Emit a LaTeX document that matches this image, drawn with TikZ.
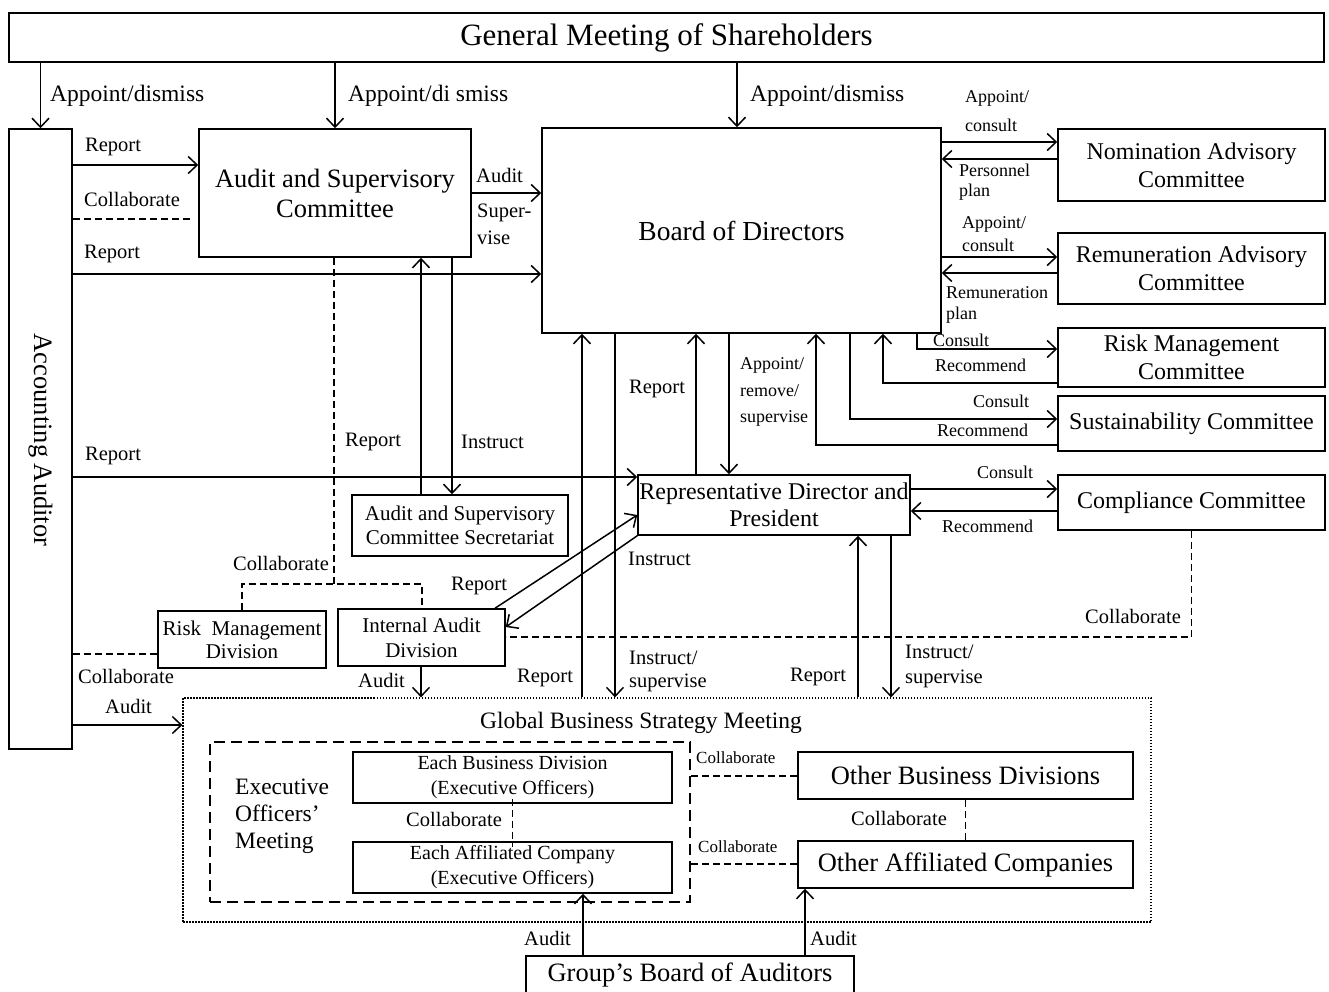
\documentclass[tikz,border=0pt]{standalone}
\usepackage{fontspec}
\setmainfont{Liberation Serif}
\usetikzlibrary{arrows.meta}
\begin{document}
\begin{tikzpicture}[x=1pt,y=-1pt,
  box/.style={draw, line width=1.5pt, inner sep=0pt, align=center},
  ln/.style={line width=1.5pt},
  arr/.style={line width=1.5pt, -{Straight Barb[length=9pt,width=17pt]}},
  dsh/.style={line width=1.5pt, dash pattern=on 7pt off 4pt},
  dshb/.style={line width=2.2pt, dash pattern=on 11pt off 6pt},
  dot/.style={line width=1.2pt, dash pattern=on 1.5pt off 1.5pt},
  lab/.style={inner sep=0pt, anchor=west},
  fA/.style={font=\fontsize{31}{36}\selectfont},
  fB/.style={font=\fontsize{27.5}{32}\selectfont},
  fC/.style={font=\fontsize{26.5}{30}\selectfont},
  fD/.style={font=\fontsize{24}{28}\selectfont},
  fE/.style={font=\fontsize{21}{24.5}\selectfont},
  fF/.style={font=\fontsize{20}{25}\selectfont},
  fL/.style={font=\fontsize{20.5}{24}\selectfont},
  fM/.style={font=\fontsize{23.5}{27}\selectfont},
  fS/.style={font=\fontsize{18}{21}\selectfont},
  fT/.style={font=\fontsize{17}{20}\selectfont},
]
\useasboundingbox (0,0) rectangle (1329,991);
\fill[white] (0,0) rectangle (1329,991);
% ---------- boxes ----------
\node[box, fA, minimum width=1315pt, minimum height=49pt] (gm) at (666.5,37.5) {General Meeting of Shareholders};
\node[box, minimum width=63pt, minimum height=620pt] (aa) at (40.5,439) {};
\node[fC, rotate=-90] (aat) at (40.5,440) {Accounting Auditor};
\node[box, fC, minimum width=272pt, minimum height=128pt] (asc) at (335,193) {Audit and Supervisory\\Committee};
\node[box, fB, minimum width=399pt, minimum height=205pt] (bod) at (741.5,230.5) {Board of Directors};
\node[box, fD, minimum width=267pt, minimum height=72pt] (nac) at (1191.5,165) {Nomination Advisory\\Committee};
\node[box, fD, minimum width=267pt, minimum height=71pt] (rac) at (1191.5,268.5) {Remuneration Advisory\\Committee};
\node[box, fD, minimum width=267pt, minimum height=59pt] (rmc) at (1191.5,357.5) {Risk Management\\Committee};
\node[box, fD, minimum width=267pt, minimum height=55pt] (sc) at (1191.5,423.5) {Sustainability Committee};
\node[box, fD, minimum width=267pt, minimum height=55pt] (cc) at (1191.5,502.5) {Compliance Committee};
\node[box, fD, minimum width=272pt, minimum height=60pt, font=\fontsize{24}{27}\selectfont] (rdp) at (774,505) {Representative Director and\\President};
\node[box, fE, minimum width=216pt, minimum height=61pt] (sec) at (460,525.5) {Audit and Supervisory\\Committee Secretariat};
\node[box, fE, minimum width=168pt, minimum height=57pt, font=\fontsize{21}{23}\selectfont] (rmd) at (242,639.5) {Risk\ \ Management\\Division};
\node[box, fE, minimum width=167pt, minimum height=57pt, font=\fontsize{21}{25}\selectfont] (iad) at (421.5,637.5) {Internal Audit\\Division};
\path (iad.center) ++(0,2) coordinate (iadc);
\node[box, dot, draw, minimum width=968pt, minimum height=224pt] (gbsm) at (667,810) {};
\node[fM] (gbsmt) at (641,723) {Global Business Strategy Meeting};
\node[box, dshb, draw, minimum width=480pt, minimum height=160pt] (eom) at (450,822) {};
\node[fM, align=left, anchor=west, inner sep=0pt, font=\fontsize{23.5}{27}\selectfont] (eomt) at (235,816) {Executive\\Officers'\\Meeting};
\node[box, fF, minimum width=319pt, minimum height=51pt] (ebd) at (512.5,777.5) {Each Business Division\\(Executive Officers)};
\node[box, fF, minimum width=319pt, minimum height=51pt] (eac) at (512.5,867.5) {Each Affiliated Company\\(Executive Officers)};
\node[box, fC, minimum width=335pt, minimum height=47pt] (obd) at (965.5,775.5) {Other Business Divisions};
\node[box, fC, minimum width=335pt, minimum height=47pt] (oac) at (965.5,864.5) {Other Affiliated Companies};
\node[box, fC, minimum width=328pt, minimum height=38pt] (gba) at (690,975) {Group's Board of Auditors};
% ---------- connectors ----------
\draw[arr] (aa.north |- gm.south) -- (aa.north);
\draw[arr] (asc.north |- gm.south) -- (asc.north);
\draw[arr] (737,0 |- gm.south) -- (737,0 |- bod.north);
\draw[arr] (aa.east |- 0,165) -- (asc.west |- 0,165);
\draw[dsh] (aa.east |- 0,219) -- ([xshift=-8pt]asc.west |- 0,219);
\draw[arr] (aa.east |- 0,274) -- (bod.west |- 0,274);
\draw[arr] (asc.east |- 0,193) -- (bod.west |- 0,193);
\draw[arr] (aa.east |- 0,477) -- (rdp.west |- 0,477);
\draw[dsh] (334,0 |- asc.south) -- (334,584);
\draw[dsh] (rmd.north) -- (rmd.north |- 0,584) -- (422,584) -- (422,0 |- iad.north);
\draw[arr] (421,0 |- sec.north) -- (421,0 |- asc.south);
\draw[arr] (452,0 |- asc.south) -- (452,0 |- sec.north);
\draw[dsh] (aa.east |- 0,654) -- (rmd.west |- 0,654);
\draw[arr] (aa.east |- 0,725) -- (gbsm.west |- 0,725);
\draw[arr] (421,0 |- iad.south) -- (421,0 |- gbsm.north);
\draw[arr] (495,0 |- iad.north) -- (rdp.west |- 0,515);
\draw[arr] (rdp.south west) -- (iad.east |- 0,627);
\draw[dsh] (cc.south) -- (cc.south |- 0,637) -- (iad.east |- 0,637);
\draw[arr] (582,0 |- gbsm.north) -- (582,0 |- bod.south);
\draw[arr] (615,0 |- bod.south) -- (615,0 |- gbsm.north);
\draw[arr] (696,0 |- rdp.north) -- (696,0 |- bod.south);
\draw[arr] (729,0 |- bod.south) -- (729,0 |- rdp.north);
\draw[arr] (858,0 |- gbsm.north) -- (858,0 |- rdp.south);
\draw[arr] (891,0 |- rdp.south) -- (891,0 |- gbsm.north);
\draw[arr] (bod.east |- 0,142) -- (nac.west |- 0,142);
\draw[arr] (nac.west |- 0,159) -- (bod.east |- 0,159);
\draw[arr] (bod.east |- 0,257) -- (rac.west |- 0,257);
\draw[arr] (rac.west |- 0,273) -- (bod.east |- 0,273);
\draw[arr] (917,0 |- bod.south) -- (917,349) -- (rmc.west |- 0,349);
\draw[arr] (rmc.west |- 0,383) -- (883,383) -- (883,0 |- bod.south);
\draw[arr] (850,0 |- bod.south) -- (850,419) -- (sc.west |- 0,419);
\draw[arr] (sc.west |- 0,445) -- (816,445) -- (816,0 |- bod.south);
\draw[arr] (rdp.east |- 0,489) -- (cc.west |- 0,489);
\draw[arr] (cc.west |- 0,511) -- (rdp.east |- 0,511);
\draw[dsh] (eom.east |- 0,776) -- (obd.west |- 0,776);
\draw[dsh] (eom.east |- 0,864) -- (oac.west |- 0,864);
\draw[dsh] ([yshift=5pt]ebd.south) -- ([yshift=-6pt]eac.north);
\draw[dsh] (obd.south) -- (oac.north);
\draw[arr] (583,0 |- gba.north) -- (583,0 |- eac.south);
\draw[arr] (805,0 |- gba.north) -- (805,0 |- oac.south);
% ---------- labels ----------
\node[lab,fM] (l1) at (50,96) {Appoint/dismiss};
\node[lab,fM] (l2) at (348,96) {Appoint/di smiss};
\node[lab,fM] (l3) at (750,96) {Appoint/dismiss};
\node[lab,fL] (l4) at (85,147) {Report};
\node[lab,fL] (l5) at (84,199) {Collaborate};
\node[lab,fL] (l6) at (84,254) {Report};
\node[lab,fL] (l7) at (85,456) {Report};
\node[lab,fL] (l8) at (476,175) {Audit};
\node[lab,fL] (l9) at (477,213) {Super-};
\node[lab,fL] (l10) at (477,238) {vise};
\node[lab,fS] (l11) at (965,98) {Appoint/};
\node[lab,fS] (l12) at (965,125) {consult};
\node[lab,fS] (l13) at (959,170) {Personnel};
\node[lab,fS] (l14) at (959,192) {plan};
\node[lab,fS] (l15) at (962,224) {Appoint/};
\node[lab,fS] (l16) at (962,245) {consult};
\node[lab,fS] (l17) at (946,293) {Remuneration};
\node[lab,fS] (l18) at (946,315) {plan};
\node[lab,fS] (l19) at (933,340) {Consult};
\node[lab,fS] (l20) at (935,365) {Recommend};
\node[lab,fS] (l21) at (973,401) {Consult};
\node[lab,fS] (l22) at (937,430) {Recommend};
\node[lab,fS] (l23) at (977,472) {Consult};
\node[lab,fS] (l24) at (942,526) {Recommend};
\node[lab,fL] (l25) at (629,389) {Report};
\node[lab,fS] (l26) at (740,365) {Appoint/};
\node[lab,fS] (l27) at (740,391) {remove/};
\node[lab,fS] (l28) at (740,418) {supervise};
\node[lab,fL] (l29) at (345,442) {Report};
\node[lab,fL] (l30) at (461,442) {Instruct};
\node[lab,fL] (l31) at (233,563) {Collaborate};
\node[lab,fL] (l32) at (451,586) {Report};
\node[lab,fL] (l33) at (628,559) {Instruct};
\node[lab,fL] (l34) at (1085,616) {Collaborate};
\node[lab,fL] (l35) at (78,676) {Collaborate};
\node[lab,fL] (l36) at (105,706) {Audit};
\node[lab,fL] (l37) at (358,680) {Audit};
\node[lab,fL] (l38) at (517,678) {Report};
\node[lab,fL] (l39) at (629,658) {Instruct/};
\node[lab,fL] (l40) at (629,683) {supervise};
\node[lab,fL] (l41) at (790,677) {Report};
\node[lab,fL] (l42) at (905,652) {Instruct/};
\node[lab,fL] (l43) at (905,679) {supervise};
\node[lab,fT] (l44) at (696,758) {Collaborate};
\node[lab,fT] (l45) at (698,847) {Collaborate};
\node[lab,fL] (l46) at (406,819) {Collaborate};
\node[lab,fL] (l47) at (851,818) {Collaborate};
\node[lab,fL] (l48) at (524,938) {Audit};
\node[lab,fL] (l49) at (810,938) {Audit};
\end{tikzpicture}
\end{document}
